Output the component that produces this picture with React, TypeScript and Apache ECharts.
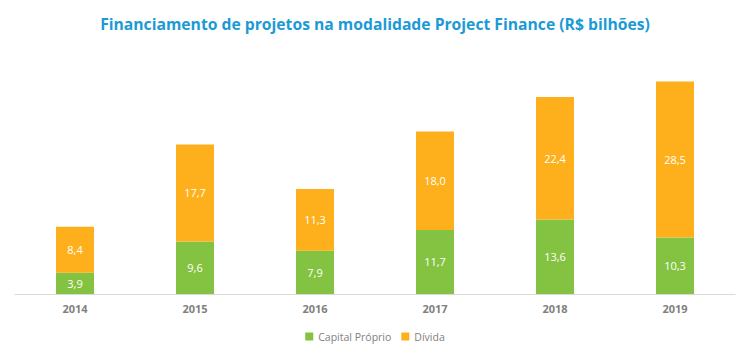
import React, { useEffect, useRef } from "react";
import * as echarts from "echarts";

const categories = ["2014", "2015", "2016", "2017", "2018", "2019"];
const capitalProprio = [3.9, 9.6, 7.9, 11.7, 13.6, 10.3];
const divida = [8.4, 17.7, 11.3, 18.0, 22.4, 28.5];

const fmt = (v: number) => v.toFixed(1).replace(".", ",");

export default function App() {
  const ref = useRef<HTMLDivElement>(null);
  useEffect(() => {
    if (!ref.current) return;
    const chart = echarts.init(ref.current, undefined, { renderer: "svg" });
    chart.setOption({
      animation: false,
      backgroundColor: "#ffffff",
      title: {
        text: "Financiamento de projetos na modalidade Project Finance (R$ bilhões)",
        left: "center",
        top: 3,
        textStyle: { color: "#1b9ad6", fontSize: 15.7, fontWeight: "bold", fontFamily: "Open Sans" },
      },
      legend: {
        bottom: 1,
        left: "center",
        itemWidth: 8,
        itemHeight: 8,
        itemGap: 10,
        icon: "rect",
        textStyle: { color: "#808080", fontSize: 10.5, fontFamily: "Open Sans" },
        data: ["Capital Próprio", "Dívida"],
      },
      grid: { left: 7, right: 7, top: 67, bottom: 54 },
      xAxis: {
        type: "category",
        data: categories,
        axisLine: { lineStyle: { color: "#d9d9d9", width: 1 } },
        axisTick: { show: false },
        axisLabel: { color: "#7f7f7f", fontSize: 11, fontWeight: "bold", fontFamily: "Open Sans", margin: 9 },
      },
      yAxis: {
        type: "value",
        min: 0,
        max: 40,
        show: false,
        splitLine: { show: false },
      },
      series: [
        {
          name: "Capital Próprio",
          type: "bar",
          stack: "total",
          data: capitalProprio,
          barWidth: 38,
          itemStyle: { color: "#84c341" },
          label: {
            show: true,
            position: "inside",
            color: "#ffffff",
            fontSize: 11,
            fontFamily: "Open Sans",
            formatter: (p: any) => fmt(p.value),
          },
        },
        {
          name: "Dívida",
          type: "bar",
          stack: "total",
          data: divida,
          barWidth: 38,
          itemStyle: { color: "#fdb01b" },
          label: {
            show: true,
            position: "inside",
            color: "#ffffff",
            fontSize: 11,
            fontFamily: "Open Sans",
            formatter: (p: any) => fmt(p.value),
          },
        },
      ],
    });
    return () => chart.dispose();
  }, []);
  return <div ref={ref} style={{ width: 734, height: 340 }} />;
}
